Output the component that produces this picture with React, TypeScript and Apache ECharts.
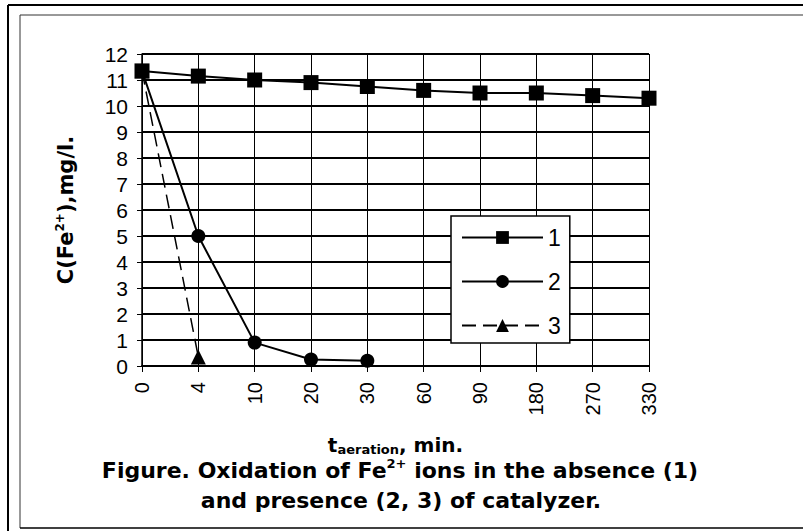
import React, { useEffect, useRef } from 'react';
import * as echarts from 'echarts';

const categories = ['0', '4', '10', '20', '30', '60', '90', '180', '270', '330'];
const series1 = [11.35, 11.15, 11.0, 10.9, 10.75, 10.6, 10.5, 10.5, 10.4, 10.3];
const series2 = [11.35, 5.0, 0.9, 0.25, 0.2];
const series3 = [11.35, 0.35];
const seriesNames = ['1', '2', '3'];
const yMin = 0;
const yMax = 12;
const yStep = 1;

const ARIAL = '"Liberation Sans", Arial, sans-serif';
const WIDE = '"DejaVu Sans", "Liberation Sans", sans-serif';

export default function App() {
  const ref = useRef<HTMLDivElement>(null);
  useEffect(() => {
    if (!ref.current) return;
    const chart = echarts.init(ref.current, undefined, { renderer: 'svg' });
    const bold = { fontFamily: WIDE, fontWeight: 'bold' as const, color: '#000' };
    chart.setOption({
      animation: false,
      backgroundColor: '#fff',
      grid: { left: 142, top: 54, right: 154, bottom: 165 },
      legend: {
        orient: 'vertical',
        left: 451,
        top: 216,
        padding: [10, 9, 6, 10],
        itemWidth: 81,
        itemHeight: 16,
        itemGap: 21,
        borderColor: '#000',
        borderWidth: 1.5,
        backgroundColor: '#fff',
        textStyle: { fontFamily: ARIAL, fontSize: 23, color: '#000' },
        data: seriesNames,
      },
      xAxis: {
        type: 'category',
        data: categories,
        boundaryGap: false,
        axisLine: { lineStyle: { color: '#000', width: 2 } },
        axisTick: { show: true, length: 6, lineStyle: { color: '#000', width: 1 } },
        axisLabel: { rotate: 90, margin: 16, fontFamily: ARIAL, fontSize: 20, color: '#000' },
        splitLine: { show: true, lineStyle: { color: '#000', width: 1 } },
        name: '{t|t}{s|aeration}{t|, min.}',
        nameLocation: 'middle',
        nameGap: 68,
        nameTextStyle: {
          ...bold,
          fontSize: 20,
          rich: {
            t: { ...bold, fontSize: 20, lineHeight: 22 },
            s: { ...bold, fontSize: 13, verticalAlign: 'bottom', lineHeight: 14 },
          },
        },
      },
      yAxis: {
        type: 'value',
        min: yMin,
        max: yMax,
        interval: yStep,
        axisLine: { show: true, lineStyle: { color: '#000', width: 1.5 } },
        axisTick: { show: true, length: 5, lineStyle: { color: '#000', width: 1 } },
        axisLabel: { margin: 14, fontFamily: ARIAL, fontSize: 21, color: '#000' },
        splitLine: { show: true, lineStyle: { color: '#000', width: 2 } },
        name: '{a|C(Fe}{s|2+}{a|),mg/l.}',
        nameLocation: 'middle',
        nameRotate: 90,
        nameGap: 64,
        nameTextStyle: {
          ...bold,
          fontSize: 21,
          rich: {
            a: { ...bold, fontSize: 21, lineHeight: 24 },
            s: { ...bold, fontSize: 12, verticalAlign: 'top', lineHeight: 12 },
          },
        },
      },
      series: [
        {
          name: seriesNames[0],
          type: 'line',
          data: series1,
          symbol: 'rect',
          symbolSize: 15,
          lineStyle: { color: '#000', width: 2 },
          itemStyle: { color: '#000' },
        },
        {
          name: seriesNames[1],
          type: 'line',
          data: series2,
          symbol: 'circle',
          symbolSize: 14,
          lineStyle: { color: '#000', width: 2 },
          itemStyle: { color: '#000' },
        },
        {
          name: seriesNames[2],
          type: 'line',
          data: series3,
          symbol: 'triangle',
          symbolSize: 15,
          lineStyle: { color: '#000', width: 1.5, type: [14, 7] },
          itemStyle: { color: '#000' },
        },
      ],
      graphic: [
        { type: 'line', shape: { x1: 8, y1: 5, x2: 803, y2: 5 }, style: { stroke: '#000', lineWidth: 2 } },
        { type: 'line', shape: { x1: 8, y1: 5, x2: 8, y2: 531 }, style: { stroke: '#000', lineWidth: 2 } },
        { type: 'line', shape: { x1: 20, y1: 15, x2: 803, y2: 15 }, style: { stroke: '#333', lineWidth: 1 } },
        { type: 'line', shape: { x1: 20, y1: 15, x2: 20, y2: 528 }, style: { stroke: '#333', lineWidth: 1 } },
        { type: 'line', shape: { x1: 20, y1: 528, x2: 803, y2: 528 }, style: { stroke: '#000', lineWidth: 1.5 } },
        {
          type: 'text',
          x: 400,
          y: 470,
          style: {
            text: '{a|Figure. Oxidation of Fe}{s|2+}{a| ions in the absence (1)}',
            align: 'center',
            verticalAlign: 'middle',
            fontFamily: WIDE,
            fontWeight: 'bold',
            fontSize: 22,
            fill: '#000',
            rich: {
              a: { fontFamily: WIDE, fontWeight: 'bold', fontSize: 22, lineHeight: 26, fill: '#000' },
              s: { fontFamily: WIDE, fontWeight: 'bold', fontSize: 13, verticalAlign: 'top', lineHeight: 13, fill: '#000' },
            },
          },
        },
        {
          type: 'text',
          x: 401,
          y: 500,
          style: {
            text: 'and presence (2, 3) of catalyzer.',
            align: 'center',
            verticalAlign: 'middle',
            fontFamily: WIDE,
            fontWeight: 'bold',
            fontSize: 22,
            fill: '#000',
          },
        },
      ],
    });
    return () => chart.dispose();
  }, []);
  return (
    <div
      ref={ref}
      style={{ position: 'fixed', left: 0, top: 0, width: 803, height: 531, background: '#fff' }}
    />
  );
}
